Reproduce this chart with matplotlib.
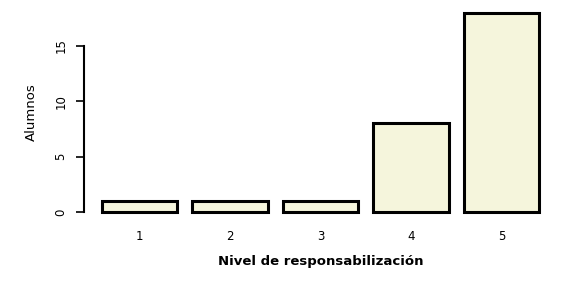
import matplotlib.pyplot as plt
import numpy as np

plt.rcParams['font.family'] = ['DejaVu Sans']

niveles = ['1', '2', '3', '4', '5']
alumnos = [1, 1, 1, 8, 18]

# R barplot style positions: width 1, space 0.2
x = 0.7 + 1.2 * np.arange(len(niveles))

fig = plt.figure(figsize=(5.82, 2.82), dpi=100)
ax = fig.add_axes([84 / 582, 62 / 282, (557 - 84) / 582, (277.2 - 62) / 282])

ax.bar(x, alumnos, width=1.0, color='#F5F5DC', edgecolor='black', linewidth=2.2)

ax.set_xlim(0.2 - 0.04 * 5.8, 6.0 + 0.04 * 5.8)
ax.set_ylim(-0.72, 18.72)

for s in ['top', 'right', 'bottom']:
    ax.spines[s].set_visible(False)
ax.spines['left'].set_bounds(0, 15)
ax.spines['left'].set_linewidth(1.5)

ax.set_yticks([0, 5, 10, 15])
ax.set_yticklabels(['0', '5', '10', '15'], rotation=90, va='center', fontsize=8.5)
ax.tick_params(axis='y', length=6, width=1.2, pad=6)

ax.set_xticks(x)
ax.set_xticklabels(niveles, fontsize=8.5)
ax.tick_params(axis='x', length=0, pad=7)

ax.set_ylabel('Alumnos', fontsize=9.5, labelpad=12)
ax.set_xlabel('Nivel de responsabilización', fontsize=9.5, fontweight='bold', labelpad=9)

plt.savefig('out.png')
